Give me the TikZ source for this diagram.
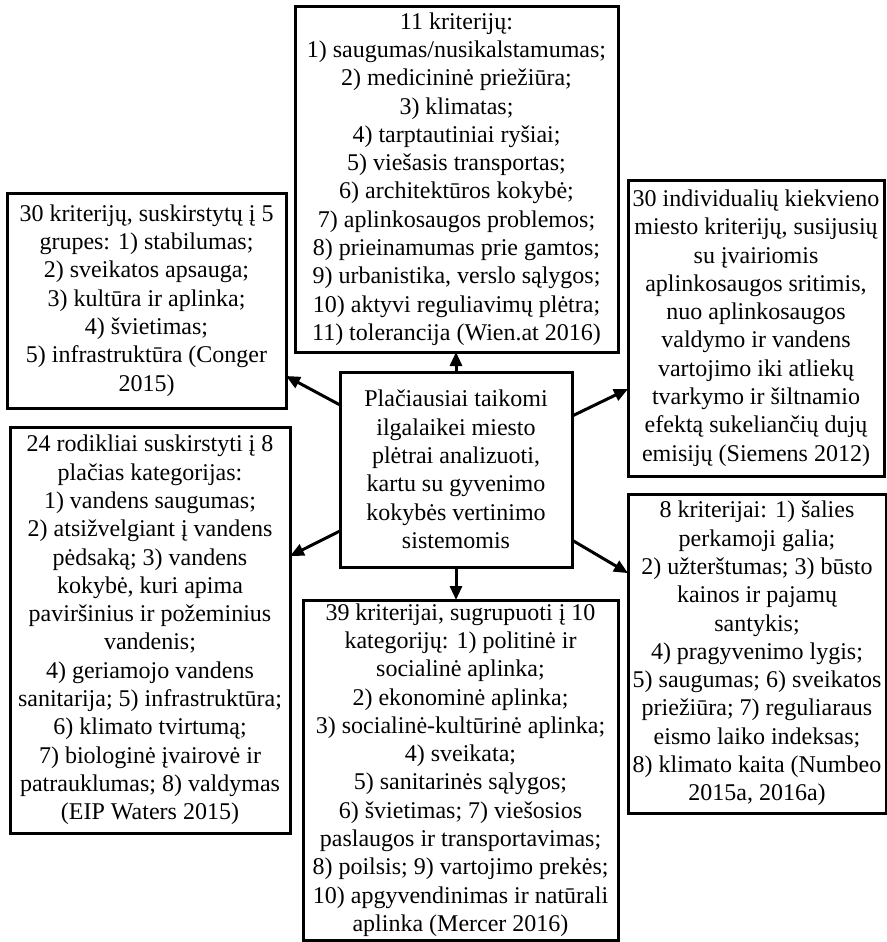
\documentclass[tikz,border=0pt]{standalone}
\usepackage{fontspec}
\setmainfont{Liberation Serif}
\usetikzlibrary{arrows.meta,calc}
\begin{document}
\begin{tikzpicture}[x=0.5pt,y=-0.5pt,
  box/.style={draw,line width=1.5pt,inner sep=0pt,outer sep=0pt,align=center,
    font=\fontsize{12pt}{14.15pt}\selectfont},
  link/.style={line width=1.5pt,-{Triangle[length=7pt,width=6pt]}}]
\useasboundingbox (0,0) rectangle (887,942);

% central box
\node[box,minimum width=116pt,minimum height=97.5pt] (c) at (456,469.5)
  {Plačiausiai taikomi\\ilgalaikei miesto\\plėtrai analizuoti,\\kartu su gyvenimo\\kokybės vertinimo\\sistemomis};

% surrounding boxes
\node[box,minimum width=161.5pt,minimum height=173pt] (top) at (456.5,179)
  {11 kriterijų:\\1) saugumas/nusikalstamumas;\\2) medicininė priežiūra;\\3) klimatas;\\4) tarptautiniai ryšiai;\\5) viešasis transportas;\\6) architektūros kokybė;\\7) aplinkosaugos problemos;\\8) prieinamumas prie gamtos;\\9) urbanistika, verslo sąlygos;\\10) aktyvi reguliavimų plėtra;\\11) tolerancija (Wien.at 2016)};

\node[box,minimum width=139.5pt,minimum height=107.5pt] (lt) at (146.5,300.5)
  {30 kriterijų, suskirstytų į 5\\grupes: 1) stabilumas;\\2) sveikatos apsauga;\\3) kultūra ir aplinka;\\4) švietimas;\\5) infrastruktūra (Conger\\2015)};

\node[box,minimum width=128pt,minimum height=148pt] (rt) at (756,328)
  {30 individualių kiekvieno\\miesto kriterijų, susijusių\\su įvairiomis\\aplinkosaugos sritimis,\\nuo aplinkosaugos\\valdymo ir vandens\\vartojimo iki atliekų\\tvarkymo ir šiltnamio\\efektą sukeliančių dujų\\emisijų (Siemens 2012)};

\node[box,minimum width=140pt,minimum height=203pt] (lb) at (150,630)
  {24 rodikliai suskirstyti į 8\\plačias kategorijas:\\1) vandens saugumas;\\2) atsižvelgiant į vandens\\pėdsaką; 3) vandens\\kokybė, kuri apima\\paviršinius ir požeminius\\vandenis;\\4) geriamojo vandens\\sanitarija; 5) infrastruktūra;\\6) klimato tvirtumą;\\7) biologinė įvairovė ir\\patrauklumas; 8) valdymas\\(EIP Waters 2015)};

\node[box,minimum width=129pt,minimum height=159.5pt] (rb) at (757,653.5)
  {8 kriterijai: 1) šalies\\perkamoji galia;\\2) užterštumas; 3) būsto\\kainos ir pajamų\\santykis;\\4) pragyvenimo lygis;\\5) saugumas; 6) sveikatos\\priežiūra; 7) reguliaraus\\eismo laiko indeksas;\\8) klimato kaita (Numbeo\\2015a, 2016a)};

\node[box,minimum width=157.5pt,minimum height=170pt] (bot) at (460.5,770)
  {39 kriterijai, sugrupuoti į 10\\kategorijų: 1) politinė ir\\socialinė aplinka;\\2) ekonominė aplinka;\\3) socialinė-kultūrinė aplinka;\\4) sveikata;\\5) sanitarinės sąlygos;\\6) švietimas; 7) viešosios\\paslaugos ir transportavimas;\\8) poilsis; 9) vartojimo prekės;\\10) apgyvendinimas ir natūrali\\aplinka (Mercer 2016)};

% connectors from the central box
\draw[link] (c.north) -- (c.north |- top.south);
\draw[link] (c.south) -- (c.south |- bot.north);
\draw[link] ($(c.north west)!0.169!(c.south west)$) -- ($(lt.north east)!0.851!(lt.south east)$);
\draw[link] ($(c.north west)!0.815!(c.south west)$) -- ($(lb.north east)!0.318!(lb.south east)$);
\draw[link] ($(c.north east)!0.226!(c.south east)$) -- ($(rt.north west)!0.706!(rt.south west)$);
\draw[link] ($(c.north east)!0.862!(c.south east)$) -- ($(rb.north west)!0.248!(rb.south west)$);
\end{tikzpicture}
\end{document}
